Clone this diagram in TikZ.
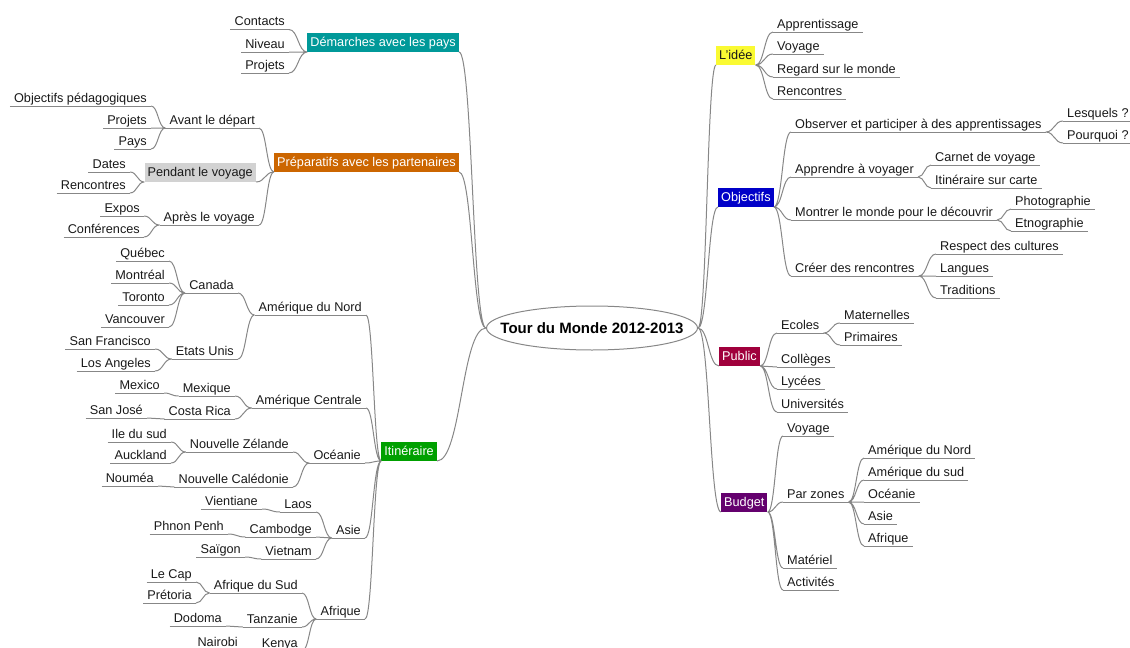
\documentclass[tikz,border=0pt]{standalone}
\usepackage{fontspec}
\setmainfont{Liberation Sans}
\usetikzlibrary{shapes.geometric,calc}

\definecolor{linegray}{RGB}{135,135,135}
\definecolor{txtgray}{RGB}{25,25,25}
\definecolor{demcol}{RGB}{0,153,153}
\definecolor{prepcol}{RGB}{204,102,0}
\definecolor{itincol}{RGB}{0,160,0}
\definecolor{pendcol}{RGB}{210,210,210}
\definecolor{ideecol}{RGB}{250,250,50}
\definecolor{objcol}{RGB}{0,0,200}
\definecolor{pubcol}{RGB}{160,0,60}
\definecolor{budcol}{RGB}{100,0,110}

\tikzset{
  leaf/.style={anchor=south west, font=\fontsize{12.7}{15}\selectfont, text=txtgray,
    inner xsep=4pt, inner ysep=1pt, text height=9.5pt, text depth=2.7pt,
    append after command={(\tikzlastnode.south west) edge[draw=linegray,line width=1pt] (\tikzlastnode.south east)}},
  leafl/.style={leaf, anchor=south east},
  box/.style={font=\fontsize{12.7}{15}\selectfont, text=white, inner xsep=3pt, inner ysep=2.5pt,
    text height=10.5pt, text depth=3pt},
  boxl/.style={box, anchor=south east},
  boxr/.style={box, anchor=south west},
  link/.style={draw=linegray, line width=1pt,
    to path={let \p1=(\tikztostart), \p2=(\tikztotarget) in
      .. controls ({(\x1+\x2)/2},\y1) and ({(\x1+\x2)/2},\y2) .. (\tikztotarget)}}
}

\begin{document}
\begin{tikzpicture}[x=1pt,y=-1pt]
\useasboundingbox (0,0) rectangle (1130,648);

% Centre
\node[ellipse, draw=linegray, line width=1pt, minimum width=211pt, minimum height=44pt, inner sep=0pt,
  label={[font=\fontsize{15}{18}\selectfont\bfseries, text=black]center:Tour du Monde 2012-2013}] (tour) at (592,328) {};

% Text Node -- left side
\node[boxl, fill=demcol] (demarches) at (459,52) {Démarches avec les pays};
\node[leafl] (contacts) at (289,29.5) {Contacts};
\node[leafl] (niveau) at (289,52) {Niveau};
\node[leafl] (projets) at (289,73) {Projets};

\node[boxl, fill=prepcol] (prepa) at (459,172) {Préparatifs avec les partenaires};
\node[leafl] (avant) at (259,128) {Avant le départ};
\node[leafl] (objped) at (151,106) {Objectifs pédagogiques};
\node[leafl] (projetsb) at (151,128) {Projets};
\node[leafl] (pays) at (151,149) {Pays};
\node[boxl, fill=pendcol, text=txtgray] (pendant) at (256,182) {Pendant le voyage};
\node[leafl] (dates) at (130,172) {Dates};
\node[leafl] (rencontresb) at (130,193) {Rencontres};
\node[leafl] (apres) at (259,225) {Après le voyage};
\node[leafl] (expos) at (144,216) {Expos};
\node[leafl] (conferences) at (144,237) {Conférences};

\node[boxl, fill=itincol] (itin) at (437,461) {Itinéraire};
\node[leafl] (amnord) at (366,315) {Amérique du Nord};
\node[leafl] (canada) at (238,293) {Canada};
\node[leafl] (quebec) at (169,261) {Québec};
\node[leafl] (montreal) at (169,283) {Montréal};
\node[leafl] (toronto) at (169,305) {Toronto};
\node[leafl] (vancouver) at (169,327) {Vancouver};
\node[leafl] (etatsunis) at (238,359) {Etats Unis};
\node[leafl] (sanfran) at (155,349) {San Francisco};
\node[leafl] (losangeles) at (155,371) {Los Angeles};
\node[leafl] (amcentrale) at (366,408) {Amérique Centrale};
\node[leafl] (mexique) at (235,396) {Mexique};
\node[leafl] (mexico) at (164,393) {Mexico};
\node[leafl] (costarica) at (235,419) {Costa Rica};
\node[leafl] (sanjose) at (147,418) {San José};
\node[leafl] (oceanie) at (365,463) {Océanie};
\node[leafl] (nzelande) at (293,452) {Nouvelle Zélande};
\node[leafl] (iledusud) at (171,442) {Ile du sud};
\node[leafl] (auckland) at (171,463) {Auckland};
\node[leafl] (ncaledonie) at (293,487) {Nouvelle Calédonie};
\node[leafl] (noumea) at (158,486) {Nouméa};
\node[leafl] (asie) at (365,538) {Asie};
\node[leafl] (laos) at (316,512) {Laos};
\node[leafl] (vientiane) at (262,509) {Vientiane};
\node[leafl] (cambodge) at (316,537) {Cambodge};
\node[leafl] (phnonpenh) at (228,534) {Phnon Penh};
\node[leafl] (vietnam) at (316,559) {Vietnam};
\node[leafl] (saigon) at (245,557) {Saïgon};
\node[leafl] (afrique) at (365,619) {Afrique};
\node[leafl] (afsud) at (302,593) {Afrique du Sud};
\node[leafl] (lecap) at (196,582) {Le Cap};
\node[leafl] (pretoria) at (196,603) {Prétoria};
\node[leafl] (tanzanie) at (302,627) {Tanzanie};
\node[leafl] (dodoma) at (226,626) {Dodoma};
\node[leafl] (kenya) at (302,651) {Kenya};
\node[leafl] (nairobi) at (242,650) {Nairobi};

% Text Node -- right side
\node[boxr, fill=ideecol, text=txtgray] (idee) at (716,65) {L'idée};
\node[leaf] (apprent) at (773,32) {Apprentissage};
\node[leaf] (voyage) at (773,54) {Voyage};
\node[leaf] (regard) at (773,77) {Regard sur le monde};
\node[leaf] (rencontres) at (773,99) {Rencontres};

\node[boxr, fill=objcol] (objectifs) at (718,207) {Objectifs};
\node[leaf] (observer) at (791,132) {Observer et participer à des apprentissages};
\node[leaf] (lesquels) at (1063,121) {Lesquels ?};
\node[leaf] (pourquoi) at (1063,143) {Pourquoi ?};
\node[leaf] (apprendre) at (791,177) {Apprendre à voyager};
\node[leaf] (carnet) at (931,165) {Carnet de voyage};
\node[leaf] (itcarte) at (931,188) {Itinéraire sur carte};
\node[leaf] (montrer) at (791,220) {Montrer le monde pour le découvrir};
\node[leaf] (photo) at (1011,209) {Photographie};
\node[leaf] (etno) at (1011,231) {Etnographie};
\node[leaf] (creer) at (791,276) {Créer des rencontres};
\node[leaf] (respect) at (936,254) {Respect des cultures};
\node[leaf] (langues) at (936,276) {Langues};
\node[leaf] (traditions) at (936,298) {Traditions};

\node[boxr, fill=pubcol] (public) at (719,366) {Public};
\node[leaf] (ecoles) at (777,333) {Ecoles};
\node[leaf] (maternelles) at (840,323) {Maternelles};
\node[leaf] (primaires) at (840,345) {Primaires};
\node[leaf] (colleges) at (777,367) {Collèges};
\node[leaf] (lycees) at (777,389) {Lycées};
\node[leaf] (universites) at (777,412) {Universités};

\node[boxr, fill=budcol] (budget) at (721,512) {Budget};
\node[leaf] (bvoyage) at (783,436) {Voyage};
\node[leaf] (parzones) at (783,502) {Par zones};
\node[leaf] (znord) at (864,458) {Amérique du Nord};
\node[leaf] (zsud) at (864,480) {Amérique du sud};
\node[leaf] (zoceanie) at (864,502) {Océanie};
\node[leaf] (zasie) at (864,524) {Asie};
\node[leaf] (zafrique) at (864,546) {Afrique};
\node[leaf] (materiel) at (783,568) {Matériel};
\node[leaf] (activites) at (783,590) {Activités};

% Links -- left side
\draw[link] (tour.west) to (demarches.south east) (tour.west) to (prepa.south east) (tour.west) to (itin.south east);
\draw[link] (demarches.south west) to (contacts.south east) (demarches.south west) to (niveau.south east)
  (demarches.south west) to (projets.south east);
\draw[link] (prepa.south west) to (avant.south east) (prepa.south west) to (pendant.south east)
  (prepa.south west) to (apres.south east);
\draw[link] (avant.south west) to (objped.south east) (avant.south west) to (projetsb.south east)
  (avant.south west) to (pays.south east);
\draw[link] (pendant.south west) to (dates.south east) (pendant.south west) to (rencontresb.south east);
\draw[link] (apres.south west) to (expos.south east) (apres.south west) to (conferences.south east);
\draw[link] (itin.south west) to (amnord.south east) (itin.south west) to (amcentrale.south east)
  (itin.south west) to (oceanie.south east) (itin.south west) to (asie.south east)
  (itin.south west) to (afrique.south east);
\draw[link] (amnord.south west) to (canada.south east) (amnord.south west) to (etatsunis.south east);
\draw[link] (canada.south west) to (quebec.south east) (canada.south west) to (montreal.south east)
  (canada.south west) to (toronto.south east) (canada.south west) to (vancouver.south east);
\draw[link] (etatsunis.south west) to (sanfran.south east) (etatsunis.south west) to (losangeles.south east);
\draw[link] (amcentrale.south west) to (mexique.south east) (amcentrale.south west) to (costarica.south east);
\draw[link] (mexique.south west) to (mexico.south east);
\draw[link] (costarica.south west) to (sanjose.south east);
\draw[link] (oceanie.south west) to (nzelande.south east) (oceanie.south west) to (ncaledonie.south east);
\draw[link] (nzelande.south west) to (iledusud.south east) (nzelande.south west) to (auckland.south east);
\draw[link] (ncaledonie.south west) to (noumea.south east);
\draw[link] (asie.south west) to (laos.south east) (asie.south west) to (cambodge.south east)
  (asie.south west) to (vietnam.south east);
\draw[link] (laos.south west) to (vientiane.south east);
\draw[link] (cambodge.south west) to (phnonpenh.south east);
\draw[link] (vietnam.south west) to (saigon.south east);
\draw[link] (afrique.south west) to (afsud.south east) (afrique.south west) to (tanzanie.south east)
  (afrique.south west) to (kenya.south east);
\draw[link] (afsud.south west) to (lecap.south east) (afsud.south west) to (pretoria.south east);
\draw[link] (tanzanie.south west) to (dodoma.south east);
\draw[link] (kenya.south west) to (nairobi.south east);

% Links -- right side
\draw[link] (tour.east) to (idee.south west) (tour.east) to (objectifs.south west)
  (tour.east) to (public.south west) (tour.east) to (budget.south west);
\draw[link] (idee.south east) to (apprent.south west) (idee.south east) to (voyage.south west)
  (idee.south east) to (regard.south west) (idee.south east) to (rencontres.south west);
\draw[link] (objectifs.south east) to (observer.south west) (objectifs.south east) to (apprendre.south west)
  (objectifs.south east) to (montrer.south west) (objectifs.south east) to (creer.south west);
\draw[link] (observer.south east) to (lesquels.south west) (observer.south east) to (pourquoi.south west);
\draw[link] (apprendre.south east) to (carnet.south west) (apprendre.south east) to (itcarte.south west);
\draw[link] (montrer.south east) to (photo.south west) (montrer.south east) to (etno.south west);
\draw[link] (creer.south east) to (respect.south west) (creer.south east) to (langues.south west)
  (creer.south east) to (traditions.south west);
\draw[link] (public.south east) to (ecoles.south west) (public.south east) to (colleges.south west)
  (public.south east) to (lycees.south west) (public.south east) to (universites.south west);
\draw[link] (ecoles.south east) to (maternelles.south west) (ecoles.south east) to (primaires.south west);
\draw[link] (budget.south east) to (bvoyage.south west) (budget.south east) to (parzones.south west)
  (budget.south east) to (materiel.south west) (budget.south east) to (activites.south west);
\draw[link] (parzones.south east) to (znord.south west) (parzones.south east) to (zsud.south west)
  (parzones.south east) to (zoceanie.south west) (parzones.south east) to (zasie.south west)
  (parzones.south east) to (zafrique.south west);
\end{tikzpicture}
\end{document}
